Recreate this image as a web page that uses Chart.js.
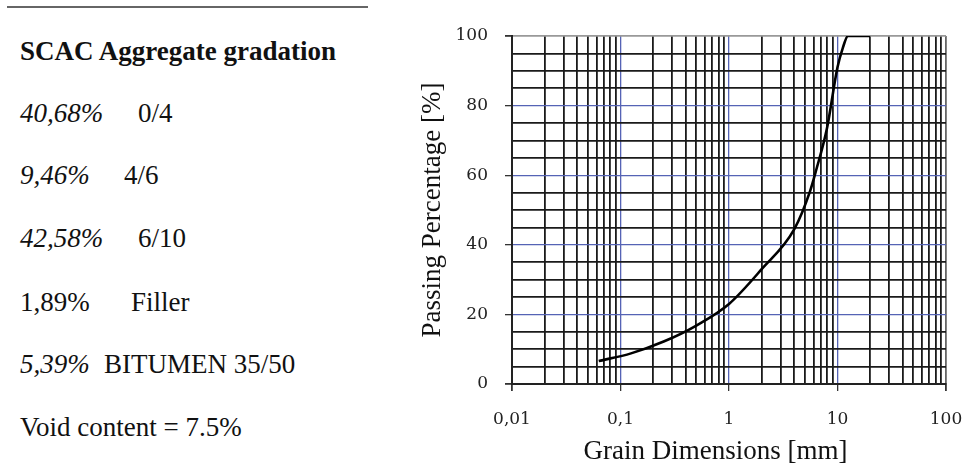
<!DOCTYPE html>
<html lang="en">
<head>
    <meta charset="UTF-8">
    <title>SCAC Aggregate gradation</title>
    <style>
        body {
            margin: 0;
            background: #fff;
            width: 967px;
            height: 473px;
            position: relative;
            overflow: hidden;
            font-family: "Liberation Serif", "Times New Roman", serif;
            color: #111;
        }
        .rule {
            position: absolute;
            left: 7px;
            top: 6px;
            width: 361px;
            height: 2px;
            background: #666;
        }
        .row {
            position: absolute;
            left: 20px;
            font-size: 27px;
            line-height: 27px;
            white-space: nowrap;
        }
        .row i { font-style: italic; }
        .row .part { position: absolute; top: 0; }
        #chart {
            position: absolute;
            left: 400px;
            top: 0;
        }
    </style>
    <script src="https://cdn.jsdelivr.net/npm/chart.js@4"></script>
</head>
<body>
<div class="rule"></div>
<div class="row" style="top:38px"><b>SCAC Aggregate gradation</b></div>
<div class="row" style="top:100px"><i>40,68%</i><span class="part" style="left:118px">0/4</span></div>
<div class="row" style="top:162px"><i>9,46%</i><span class="part" style="left:104px">4/6</span></div>
<div class="row" style="top:225px"><i>42,58%</i><span class="part" style="left:118px">6/10</span></div>
<div class="row" style="top:289px">1,89%<span class="part" style="left:111px">Filler</span></div>
<div class="row" style="top:351px"><i>5,39%</i><span class="part" style="left:84px">BITUMEN 35/50</span></div>
<div class="row" style="top:414px">Void content = 7.5%</div>

<canvas id="chart" width="567" height="473"></canvas>
<script>
    // sieve sizes [mm] and passing percentage
    const sieveSizes = [0.063, 0.125, 0.25, 0.5, 1, 2, 4, 5.6, 6.3, 8, 10, 11.2, 12.5, 16, 20];
    const passingPct = [6.6, 8.8, 12.2, 16.8, 23, 33, 44.5, 55.5, 61, 73.5, 91, 96.6, 100, 100, 100];

    // axis labels
    const xDecades = [0.01, 0.1, 1, 10, 100];
    const xDecadeLabels = ['0,01', '0,1', '1', '10', '100'];
    const yMajorTicks = [0, 20, 40, 60, 80, 100];

    const BLACK = '#1a1a1a';
    const BLUE = '#5563b5';

    function isDecade(v) {
        const l = Math.log10(v);
        return Math.abs(l - Math.round(l)) < 1e-9;
    }

    // grid positions 1..9 in every decade from 0.01 to 100
    function logGridTicks() {
        const ticks = [];
        for (let e = -2; e < 2; e++) {
            for (let m = 1; m < 10; m++) {
                ticks.push({ value: Number((m * Math.pow(10, e)).toPrecision(3)) });
            }
        }
        ticks.push({ value: 100 });
        return ticks;
    }

    const tickFont = { family: 'DejaVu Serif', size: 17 };
    const titleFont = { family: 'Liberation Serif', size: 27 };

    new Chart(document.getElementById('chart').getContext('2d'), {
        type: 'line',
        data: {
            datasets: [{
                data: sieveSizes.map((s, i) => ({ x: s, y: passingPct[i] })),
                borderColor: '#000',
                borderWidth: 2.6,
                pointRadius: 0,
                cubicInterpolationMode: 'monotone',
                fill: false
            }]
        },
        options: {
            responsive: false,
            animation: false,
            layout: { padding: { top: 36, right: 21, bottom: 0, left: 0 } },
            plugins: { legend: { display: false }, tooltip: { enabled: false } },
            scales: {
                x: {
                    type: 'logarithmic',
                    min: 0.01,
                    max: 100,
                    afterBuildTicks: s => { s.ticks = logGridTicks(); },
                    afterFit: s => {
                        s.height = 89;
                        s.paddingLeft = 0;
                        s.paddingRight = 0;
                    },
                    ticks: {
                        autoSkip: false,
                        maxRotation: 0,
                        padding: 18,
                        color: '#222',
                        font: tickFont,
                        callback: v => {
                            const i = xDecades.findIndex(d => Math.abs(d - v) < 1e-9);
                            return i >= 0 ? xDecadeLabels[i] : '';
                        }
                    },
                    grid: {
                        tickLength: 7,
                        lineWidth: c => (c.tick && isDecade(c.tick.value) && c.tick.value > 0.01 && c.tick.value < 100) ? 1.3 : 1.8,
                        color: c => {
                            const v = c.tick ? c.tick.value : 0;
                            if (v >= 100) return '#666';
                            if (isDecade(v) && v > 0.01) return BLUE;
                            return BLACK;
                        },
                        tickColor: c => (c.tick && isDecade(c.tick.value)) ? '#333' : 'rgba(0,0,0,0)'
                    },
                    border: { color: '#222', width: 2 },
                    title: {
                        display: true,
                        // trailing em space nudges the centred title a little to the left, as in the source
                        text: 'Grain Dimensions [mm]\u2003',
                        color: '#111',
                        font: titleFont,
                        padding: { top: 0, bottom: 5 }
                    }
                },
                y: {
                    min: 0,
                    max: 100,
                    afterFit: s => { s.width = 112; },
                    ticks: {
                        stepSize: 5,
                        autoSkip: false,
                        padding: 17,
                        color: '#222',
                        font: tickFont,
                        callback: v => yMajorTicks.includes(v) ? String(v) : ''
                    },
                    grid: {
                        tickLength: 7,
                        lineWidth: c => {
                            const v = c.tick ? c.tick.value : 0;
                            return (v % 20 === 0 && v > 0 && v < 100) ? 1.3 : 1.8;
                        },
                        color: c => {
                            const v = c.tick ? c.tick.value : 0;
                            if (v >= 100) return '#999';
                            if (v % 20 === 0 && v > 0) return BLUE;
                            return BLACK;
                        },
                        tickColor: c => (c.tick && yMajorTicks.includes(c.tick.value)) ? '#333' : 'rgba(0,0,0,0)'
                    },
                    border: { color: '#222', width: 2 },
                    title: {
                        display: true,
                        text: 'Passing Percentage [%]',
                        color: '#111',
                        font: titleFont,
                        padding: { top: 17, bottom: 0 }
                    }
                }
            }
        }
    });
</script>
</body>
</html>
